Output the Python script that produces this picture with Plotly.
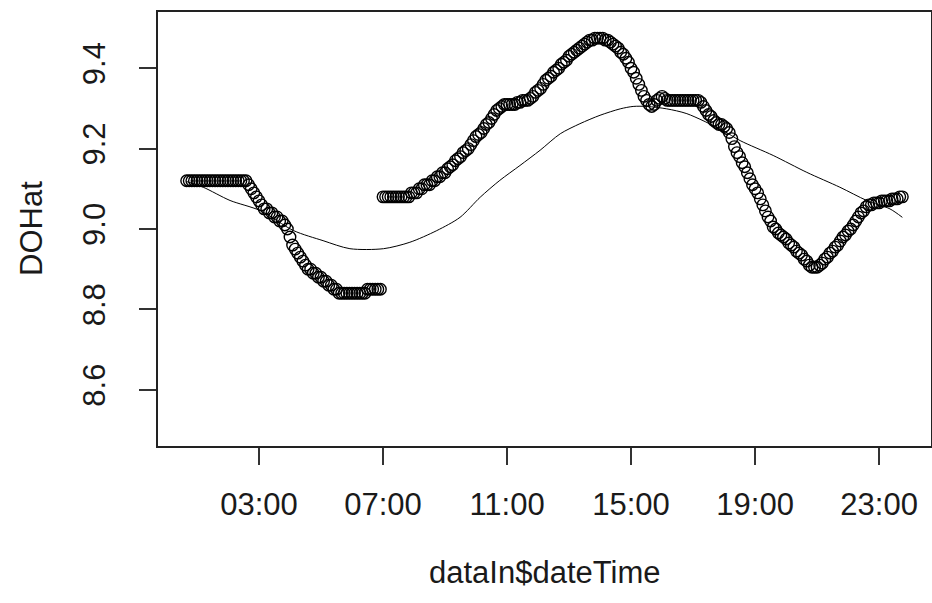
import pandas as pd
import plotly.graph_objects as go

# DOHat observations, 5-minute steps starting 00:40, one row per hour
do_hat = [
    9.12, 9.12, 9.12, 9.12,  # 00:40-00:55
    9.12, 9.12, 9.12, 9.12, 9.12, 9.12, 9.12, 9.12, 9.12, 9.12, 9.12, 9.12,  # 01
    9.12, 9.12, 9.12, 9.12, 9.12, 9.12, 9.12, 9.12, 9.11, 9.10, 9.09, 9.08,  # 02
    9.07, 9.06, 9.05, 9.05, 9.04, 9.04, 9.03, 9.03, 9.02, 9.02, 9.01, 9.00,  # 03
    8.98, 8.96, 8.95, 8.94, 8.93, 8.92, 8.91, 8.90, 8.90, 8.89, 8.89, 8.88,  # 04
    8.88, 8.87, 8.87, 8.86, 8.86, 8.85, 8.85, 8.84, 8.84, 8.84, 8.84, 8.84,  # 05
    8.84, 8.84, 8.84, 8.84, 8.84, 8.84, 8.85, 8.85, 8.85, 8.85, 8.85, 8.85,  # 06
    9.08, 9.08, 9.08, 9.08, 9.08, 9.08, 9.08, 9.08, 9.08, 9.08, 9.08, 9.09,  # 07
    9.09, 9.09, 9.10, 9.10, 9.11, 9.11, 9.11, 9.12, 9.12, 9.13, 9.13, 9.14,  # 08
    9.14, 9.15, 9.155, 9.16, 9.17, 9.175, 9.18, 9.19, 9.195, 9.20, 9.21, 9.22,  # 09
    9.23, 9.235, 9.24, 9.25, 9.26, 9.265, 9.275, 9.285, 9.295, 9.30, 9.305, 9.31,  # 10
    9.31, 9.31, 9.31, 9.31, 9.315, 9.315, 9.32, 9.32, 9.32, 9.325, 9.33, 9.34,  # 11
    9.345, 9.35, 9.36, 9.37, 9.375, 9.38, 9.39, 9.395, 9.40, 9.41, 9.415, 9.42,  # 12
    9.43, 9.435, 9.44, 9.445, 9.45, 9.455, 9.46, 9.465, 9.47, 9.47, 9.475, 9.475,  # 13
    9.475, 9.475, 9.47, 9.47, 9.465, 9.46, 9.455, 9.45, 9.44, 9.435, 9.425, 9.415,  # 14
    9.40, 9.39, 9.375, 9.36, 9.345, 9.33, 9.32, 9.31, 9.305, 9.31, 9.32, 9.325,  # 15
    9.33, 9.325, 9.32, 9.32, 9.32, 9.32, 9.32, 9.32, 9.32, 9.32, 9.32, 9.32,  # 16
    9.32, 9.32, 9.32, 9.315, 9.305, 9.295, 9.285, 9.28, 9.27, 9.265, 9.26, 9.26,  # 17
    9.255, 9.25, 9.24, 9.225, 9.205, 9.19, 9.18, 9.165, 9.155, 9.14, 9.125, 9.11,  # 18
    9.10, 9.09, 9.075, 9.06, 9.045, 9.03, 9.02, 9.005, 9.00, 8.99, 8.985, 8.98,  # 19
    8.975, 8.965, 8.96, 8.955, 8.945, 8.94, 8.935, 8.925, 8.92, 8.91, 8.905, 8.905,  # 20
    8.905, 8.91, 8.915, 8.925, 8.93, 8.94, 8.945, 8.955, 8.96, 8.97, 8.98, 8.985,  # 21
    8.995, 9.00, 9.01, 9.02, 9.03, 9.04, 9.045, 9.055, 9.06, 9.06, 9.065, 9.065,  # 22
    9.065, 9.07, 9.07, 9.07, 9.07, 9.075, 9.075, 9.075, 9.08, 9.08,  # 23:00-23:45
]

# smoothed fit line
fit_times = ["00:40", "01:12", "02:04", "03:02", "04:07", "05:04", "05:56", "07:01",
             "07:52", "08:44", "09:29", "10:08", "10:46", "11:25", "12:04", "12:43",
             "13:21", "14:00", "14:39", "15:04", "15:31", "16:09", "16:48", "17:58",
             "18:31", "19:35", "20:40", "21:44", "22:36", "23:21", "23:45"]
fit_values = [9.118, 9.104, 9.071, 9.046, 8.996, 8.971, 8.951, 8.951,
              8.967, 8.996, 9.029, 9.079, 9.121, 9.158, 9.196, 9.237,
              9.262, 9.283, 9.299, 9.305, 9.305, 9.299, 9.287, 9.245,
              9.220, 9.183, 9.141, 9.104, 9.071, 9.050, 9.029]

x_tick_labels = ["03:00", "07:00", "11:00", "15:00", "19:00", "23:00"]
y_tick_values = [8.6, 8.8, 9.0, 9.2, 9.4]
y_tick_labels = ["8.6", "8.8", "9.0", "9.2", "9.4"]
y_limits = [8.5, 9.5]

day = "2020-01-01 "
times = pd.date_range(day + "00:40", periods=len(do_hat), freq="5min")
fit_x = pd.to_datetime([day + t for t in fit_times])
tick_x = pd.to_datetime([day + t for t in x_tick_labels])

# R-style 4% axis extension
span = times.max() - times.min()
x_range = [times.min() - 0.04 * span, times.max() + 0.04 * span]
y_span = y_limits[1] - y_limits[0]
y_range = [y_limits[0] - 0.04 * y_span, y_limits[1] + 0.04 * y_span]

FONT = "Liberation Sans, Arial, sans-serif"
TXT = "#1a1a1a"
FS = 31

fig = go.Figure()
fig.add_trace(go.Scatter(
    x=times, y=do_hat, mode="markers",
    marker=dict(symbol="circle-open", size=11.5, color="black", line=dict(width=1.4, color="black")),
    hoverinfo="skip", showlegend=False,
))
fig.add_trace(go.Scatter(
    x=fit_x, y=fit_values, mode="lines",
    line=dict(color="black", width=1, shape="spline", smoothing=0.8),
    hoverinfo="skip", showlegend=False,
))

axis_common = dict(
    showgrid=False, zeroline=False, showline=True, mirror=True,
    linecolor="#222222", linewidth=2, ticks="outside", ticklen=17, tickwidth=2,
    tickcolor="#333333", tickfont=dict(family=FONT, size=FS, color=TXT),
)
fig.update_xaxes(type="date", range=x_range, tickvals=tick_x, ticktext=x_tick_labels,
                 ticklabelstandoff=13, **axis_common)
fig.update_yaxes(range=y_range, tickvals=y_tick_values, ticktext=y_tick_labels,
                 tickangle=-90, ticklabelstandoff=22, **axis_common)

fig.update_layout(
    width=932, height=603,
    margin=dict(l=158, r=1, t=12, b=157, autoexpand=False),
    paper_bgcolor="white", plot_bgcolor="white",
    annotations=[
        dict(text="DOHat", xref="paper", yref="paper", x=(31 - 158) / 773, y=0.5,
             xanchor="center", yanchor="middle", textangle=-90, showarrow=False,
             font=dict(family=FONT, size=FS, color=TXT)),
        dict(text="dataIn$dateTime", xref="paper", yref="paper", x=0.5, y=(446 - 572) / 434,
             xanchor="center", yanchor="middle", showarrow=False,
             font=dict(family=FONT, size=FS, color=TXT)),
    ],
)

fig.write_html("out.html")
